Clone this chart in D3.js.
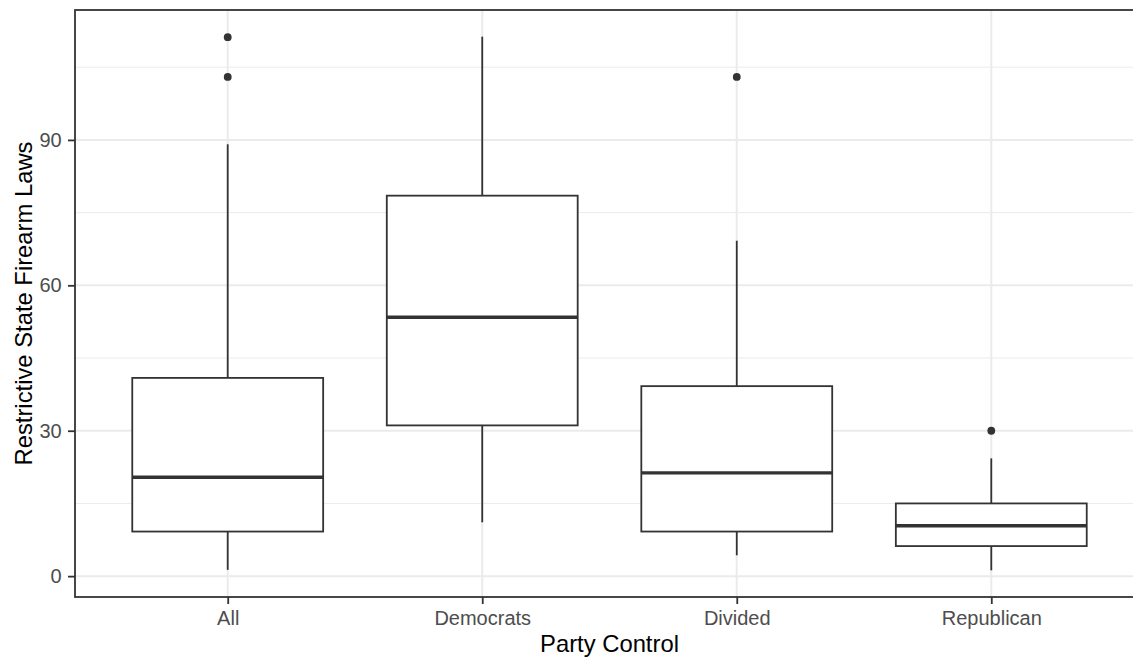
<!DOCTYPE html>
<html>
<head>
<meta charset="utf-8">
<script src="https://cdn.jsdelivr.net/npm/d3@7"></script>
<style>
  html, body { margin: 0; padding: 0; background: #ffffff; }
  svg { display: block; font-family: "Liberation Sans", Arial, sans-serif; }
</style>
</head>
<body>
<svg id="chart" width="1133" height="657"></svg>
<script>
// Box-plot summary per party control group
const categories = ["All", "Democrats", "Divided", "Republican"];
const whiskerLow  = [1.3, 11.1, 4.3, 1.2];
const q1          = [9.2, 31.1, 9.2, 6.2];
const median      = [20.4, 53.4, 21.3, 10.4];
const q3          = [40.9, 78.5, 39.2, 15.0];
const whiskerHigh = [89.1, 111.3, 69.2, 24.3];
const outliers    = [[103, 111.2], [], [103], [30]];

const yTicks = [0, 30, 60, 90];
const yMinorTicks = [15, 45, 75, 105];

const svg = d3.select("#chart");

// Panel geometry (right edge runs past the canvas)
const panel = { left: 75, top: 10, right: 1144, bottom: 597 };

// y domain: data range expanded by 5% on each side
const allVals = whiskerLow.concat(whiskerHigh, outliers.flat());
const lo = d3.min(allVals), hi = d3.max(allVals);
const pad = (hi - lo) * 0.05;
const y = d3.scaleLinear().domain([lo - pad, hi + pad]).range([panel.bottom, panel.top]);

const x = d3.scalePoint().domain(categories).range([panel.left, panel.right]).padding(0.6);
const boxW = x.step() * 0.75;

const rows = categories.map((c, i) => ({
  cat: c, lo: whiskerLow[i], q1: q1[i], med: median[i], q3: q3[i], hi: whiskerHigh[i], out: outliers[i]
}));

const g = svg.append("g");

// Panel background
g.append("rect")
  .attr("x", panel.left).attr("y", panel.top)
  .attr("width", panel.right - panel.left).attr("height", panel.bottom - panel.top)
  .attr("fill", "#ffffff");

// Minor gridlines
g.selectAll(".minor").data(yMinorTicks).enter().append("line")
  .attr("x1", panel.left).attr("x2", panel.right)
  .attr("y1", d => y(d)).attr("y2", d => y(d))
  .attr("stroke", "#ebebeb").attr("stroke-width", 1);

// Major gridlines
g.selectAll(".majorY").data(yTicks).enter().append("line")
  .attr("x1", panel.left).attr("x2", panel.right)
  .attr("y1", d => y(d)).attr("y2", d => y(d))
  .attr("stroke", "#ebebeb").attr("stroke-width", 2);
g.selectAll(".majorX").data(categories).enter().append("line")
  .attr("x1", d => x(d)).attr("x2", d => x(d))
  .attr("y1", panel.top).attr("y2", panel.bottom)
  .attr("stroke", "#ebebeb").attr("stroke-width", 2);

const ink = "#333333";

// Whiskers
const boxes = g.selectAll(".box").data(rows).enter().append("g");
boxes.append("line")
  .attr("x1", d => x(d.cat)).attr("x2", d => x(d.cat))
  .attr("y1", d => y(d.q3)).attr("y2", d => y(d.hi))
  .attr("stroke", ink).attr("stroke-width", 1.8);
boxes.append("line")
  .attr("x1", d => x(d.cat)).attr("x2", d => x(d.cat))
  .attr("y1", d => y(d.q1)).attr("y2", d => y(d.lo))
  .attr("stroke", ink).attr("stroke-width", 1.8);

// Boxes
boxes.append("rect")
  .attr("x", d => x(d.cat) - boxW / 2)
  .attr("width", boxW)
  .attr("y", d => y(d.q3))
  .attr("height", d => y(d.q1) - y(d.q3))
  .attr("fill", "#ffffff").attr("stroke", ink).attr("stroke-width", 1.8);

// Medians
boxes.append("line")
  .attr("x1", d => x(d.cat) - boxW / 2).attr("x2", d => x(d.cat) + boxW / 2)
  .attr("y1", d => y(d.med)).attr("y2", d => y(d.med))
  .attr("stroke", ink).attr("stroke-width", 3.4);

// Outliers
boxes.selectAll("circle").data(d => d.out.map(v => ({ cat: d.cat, v }))).enter().append("circle")
  .attr("cx", d => x(d.cat)).attr("cy", d => y(d.v)).attr("r", 3.9)
  .attr("fill", ink);

// Panel border
g.append("rect")
  .attr("x", panel.left).attr("y", panel.top)
  .attr("width", panel.right - panel.left).attr("height", panel.bottom - panel.top)
  .attr("fill", "none").attr("stroke", ink).attr("stroke-width", 1.8);

// Axes
const yAxis = d3.axisLeft(y).tickValues(yTicks).tickSize(7).tickPadding(6.3);
const yG = svg.append("g").attr("transform", `translate(${panel.left},0)`).call(yAxis);
const xAxis = d3.axisBottom(x).tickSize(7).tickPadding(7);
const xG = svg.append("g").attr("transform", `translate(0,${panel.bottom})`).call(xAxis);

[yG, xG].forEach(a => {
  a.select(".domain").remove();
  a.selectAll(".tick line").attr("stroke", ink).attr("stroke-width", 1.8);
  a.selectAll(".tick text")
    .attr("fill", "#4d4d4d")
    .style("font-size", "20px")
    .style("font-family", "'Liberation Sans', Arial, sans-serif");
});

// Axis titles
svg.append("text")
  .attr("x", (panel.left + panel.right) / 2)
  .attr("y", 651.5)
  .attr("text-anchor", "middle")
  .attr("fill", "#000000")
  .style("font-size", "23.8px")
  .text("Party Control");

svg.append("text")
  .attr("transform", `translate(32,${(panel.top + panel.bottom) / 2}) rotate(-90)`)
  .attr("text-anchor", "middle")
  .attr("fill", "#000000")
  .style("font-size", "23.8px")
  .text("Restrictive State Firearm Laws");
</script>
</body>
</html>
